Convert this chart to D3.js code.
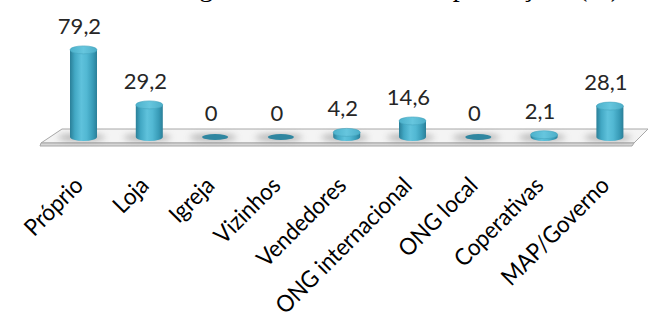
<!DOCTYPE html>
<html>
<head>
<meta charset="utf-8">
<script src="https://cdn.jsdelivr.net/npm/d3@7/dist/d3.min.js"></script>
<style>
  html, body { margin: 0; padding: 0; background: #ffffff; }
  svg { display: block; }
</style>
</head>
<body>
<svg id="chart" width="648" height="321"></svg>
<script>
// Data
const categories = ["Próprio", "Loja", "Igreja", "Vizinhos", "Vendedores",
                    "ONG internacional", "ONG local", "Coperativas", "MAP/Governo"];
const values = [79.2, 29.2, 0, 0, 4.2, 14.6, 0, 2.1, 28.1];
const valueLabels = ["79,2", "29,2", "0", "0", "4,2", "14,6", "0", "2,1", "28,1"];
const titleText = "Origem das sementes nas plantações (%)";

const W = 648, H = 321;
const svg = d3.select("#chart");

// Scales
const x = d3.scalePoint().domain(categories).range([83.5, 609.9]);
const y = d3.scaleLinear().domain([0, 80]).range([137, 49]);

const rx = 13.5, ry = 4;

// Defs: gradients and blur
const defs = svg.append("defs");
const bodyGrad = defs.append("linearGradient").attr("id", "cylBody")
  .attr("x1", "0%").attr("x2", "100%").attr("y1", "0%").attr("y2", "0%");
[[0, "#2a7f98"], [0.18, "#42a8c4"], [0.42, "#5fc2dc"], [0.62, "#52b8d3"],
 [0.85, "#389bb7"], [1, "#2b7f98"]].forEach(([o, c]) =>
  bodyGrad.append("stop").attr("offset", o).attr("stop-color", c));

const topGrad = defs.append("linearGradient").attr("id", "cylTop")
  .attr("x1", "0%").attr("x2", "100%").attr("y1", "0%").attr("y2", "0%");
[[0, "#4cb1cb"], [0.5, "#66c6de"], [1, "#4caec8"]].forEach(([o, c]) =>
  topGrad.append("stop").attr("offset", o).attr("stop-color", c));

defs.append("filter").attr("id", "soft").attr("x", "-50%").attr("y", "-100%")
  .attr("width", "200%").attr("height", "300%")
  .append("feGaussianBlur").attr("stdDeviation", 3);

// Title (runs past the top edge)
svg.append("text")
  .attr("x", 162).attr("y", -4)
  .attr("font-family", "'Liberation Serif', 'Times New Roman', serif")
  .attr("font-size", 28)
  .attr("fill", "#000")
  .text(titleText);

// Floor slab
const floor = svg.append("g");
floor.append("path")
  .attr("d", "M62,129 L648,129 L634,143 L41,143 Z")
  .attr("fill", "#f4f4f4").attr("stroke", "#a8a8a8").attr("stroke-width", 1);
floor.append("path")
  .attr("d", "M41,143 L634,143 L632,146 L40,146 Z")
  .attr("fill", "#d6d6d6").attr("stroke", "#a8a8a8").attr("stroke-width", 1);

// Shadows
svg.append("g").selectAll("ellipse").data(categories).join("ellipse")
  .attr("cx", d => x(d) - 2)
  .attr("cy", 137.5)
  .attr("rx", 24).attr("ry", 3.5)
  .attr("fill", "#7a7a7a").attr("opacity", 0.55)
  .attr("filter", "url(#soft)");

// Cylinders
const bars = svg.append("g").selectAll("g").data(categories).join("g");
bars.each(function (d, i) {
  const g = d3.select(this);
  const cx = x(d), v = values[i];
  const yb = y(0), yt = y(v);
  if (v > 0) {
    g.append("path")
      .attr("d", `M${cx - rx},${yt} L${cx - rx},${yb} A${rx},${ry} 0 0 0 ${cx + rx},${yb} L${cx + rx},${yt} Z`)
      .attr("fill", "url(#cylBody)");
    g.append("ellipse")
      .attr("cx", cx).attr("cy", yt).attr("rx", rx).attr("ry", ry)
      .attr("fill", "url(#cylTop)")
      .attr("stroke", "#44a4be").attr("stroke-width", 0.6);
  } else {
    g.append("ellipse")
      .attr("cx", cx).attr("cy", yb).attr("rx", rx - 0.5).attr("ry", 3)
      .attr("fill", "#2f86a0");
  }
});

// Value labels
svg.append("g").selectAll("text").data(categories).join("text")
  .attr("x", d => x(d) - 4)
  .attr("y", (d, i) => y(values[i]) - 16)
  .attr("text-anchor", "middle")
  .attr("font-family", "Lato, 'Open Sans', sans-serif")
  .attr("font-size", 22)
  .attr("fill", "#262626")
  .text((d, i) => valueLabels[i]);

// Category axis labels, rotated; slightly condensed along the baseline
svg.append("g").selectAll("text").data(categories).join("text")
  .attr("transform", d => `translate(${x(d) + 1},187) rotate(-45) scale(0.94,1)`)
  .attr("text-anchor", "end")
  .attr("font-family", "Lato, 'Open Sans', sans-serif")
  .attr("font-size", 23.5)
  .attr("fill", "#000")
  .text(d => d);
</script>
</body>
</html>
